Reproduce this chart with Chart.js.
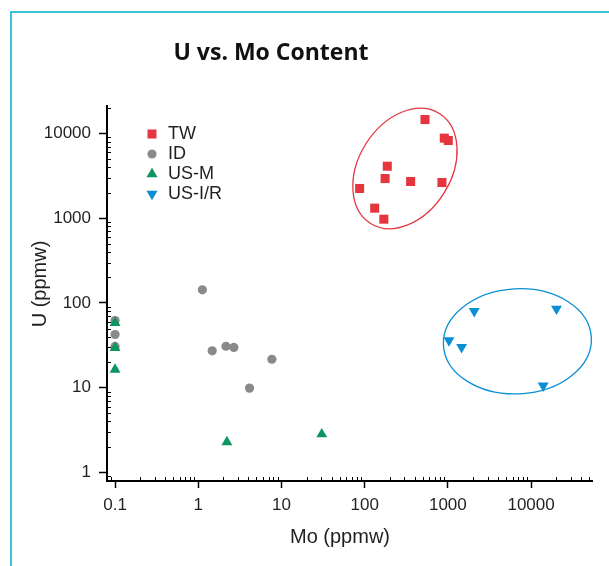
<!DOCTYPE html>
<html>
<head>
    <title>U vs. Mo Content</title>
    <style type="text/css">
        body {
            margin: 0;
            background: #ffffff;
        }

        #chart-container {
            width: 609px;
            height: 566px;
        }
    </style>
    <script src="https://cdn.jsdelivr.net/npm/chart.js@4.4.1/dist/chart.umd.min.js"></script>
</head>

<body>
    <div id="chart-container">
        <canvas id="graphCanvas" width="609" height="566"></canvas>
    </div>

    <script>
        // values (ppmw)
        const twMo = [531, 906, 1011, 187, 176, 357, 849, 87, 132, 170];
        const twU = [14600, 8810, 8270, 4110, 2940, 2715, 2640, 2245, 1315, 975];

        const idMo = [1.12, 0.1, 0.1, 0.1, 1.47, 2.15, 2.68, 7.67, 4.13];
        const idU = [143, 62, 42.5, 30.7, 27.3, 30.9, 29.9, 21.7, 9.9];

        const usmMo = [0.1, 0.1, 0.1, 2.21, 30.5];
        const usmU = [58.4, 29.6, 16.4, 2.28, 2.83];

        const usirMo = [2075, 20200, 1031, 1463, 13970];
        const usirU = [80, 85.4, 36.1, 30.1, 10.6];

        const xTicks = [0.1, 1, 10, 100, 1000, 10000];
        const xTickLabels = ['0.1', '1', '10', '100', '1000', '10000'];
        const yTicks = [1, 10, 100, 1000, 10000];
        const yTickLabels = ['1', '10', '100', '1000', '10000'];

        const seriesNames = ['TW', 'ID', 'US-M', 'US-I/R'];

        // group outlines: centre (Mo, U), half-axes in decades, tilt in degrees
        const groupRings = [
            { mo: 305, u: 3865, rx: 0.78, ry: 0.545, tilt: 58, color: '#e5353f' },
            { mo: 6850, u: 35.3, rx: 0.89, ry: 0.62, tilt: 3, color: '#0b8fd4' }
        ];

        const RED = '#e5353f', GREY = '#8a8a8a', GREEN = '#0b9561', BLUE = '#0b8fd4';
        const FONT = "'Liberation Sans', Arial, sans-serif";

        function toPoints(xs, ys) {
            return xs.map(function (x, i) { return { x: x, y: ys[i] }; });
        }

        // small dot for the legend (default legend dot would be too big)
        const legendDot = document.createElement('canvas');
        legendDot.width = 10;
        legendDot.height = 10;
        (function () {
            const c = legendDot.getContext('2d');
            c.fillStyle = GREY;
            c.beginPath();
            c.arc(5, 5, 4.6, 0, Math.PI * 2);
            c.fill();
        })();

        const decorPlugin = {
            id: 'decor',
            afterLayout(chart) {
                // put the legend in the upper left of the plot
                const lg = chart.legend;
                const w = lg.right - lg.left, h = lg.bottom - lg.top;
                lg.left = 143; lg.right = 143 + w;
                lg.top = 123; lg.bottom = 123 + h;
            },
            beforeDraw(chart) {
                const ctx = chart.ctx;
                ctx.save();
                ctx.strokeStyle = '#3dc2da';
                ctx.lineWidth = 2;
                ctx.beginPath();
                ctx.moveTo(11, 566);
                ctx.lineTo(11, 12);
                ctx.lineTo(609, 12);
                ctx.stroke();
                ctx.restore();
            },
            beforeDatasetsDraw(chart) {
                const ctx = chart.ctx;
                const xs = chart.scales.x, ys = chart.scales.y;
                ctx.save();
                groupRings.forEach(function (r) {
                    const cx = xs.getPixelForValue(r.mo);
                    const cy = ys.getPixelForValue(r.u);
                    const rx = xs.getPixelForValue(r.mo * Math.pow(10, r.rx)) - cx;
                    const ry = cy - ys.getPixelForValue(r.u * Math.pow(10, r.ry));
                    ctx.strokeStyle = r.color;
                    ctx.lineWidth = 1.3;
                    ctx.beginPath();
                    ctx.ellipse(cx, cy, rx, ry, -r.tilt * Math.PI / 180, 0, Math.PI * 2);
                    ctx.stroke();
                });
                ctx.restore();
            },
            afterDraw(chart) {
                const ctx = chart.ctx;
                const xs = chart.scales.x, ys = chart.scales.y;
                ctx.save();
                // minor ticks, pointing into the plot
                ctx.strokeStyle = '#000';
                ctx.lineWidth = 1;
                ctx.beginPath();
                [0.01].concat(xTicks).forEach(function (d) {
                    for (let k = 2; k <= 9; k++) {
                        const v = d * k;
                        if (v <= xs.min || v >= xs.max) continue;
                        const px = Math.round(xs.getPixelForValue(v)) + 0.5;
                        ctx.moveTo(px, xs.top);
                        ctx.lineTo(px, xs.top - 4);
                    }
                });
                [0.1].concat(yTicks).forEach(function (d) {
                    for (let k = 2; k <= 9; k++) {
                        const v = d * k;
                        if (v <= ys.min || v >= ys.max) continue;
                        const py = Math.round(ys.getPixelForValue(v)) + 0.5;
                        ctx.moveTo(ys.right, py);
                        ctx.lineTo(ys.right + 4, py);
                    }
                });
                ctx.stroke();

                // titles
                ctx.fillStyle = '#111';
                ctx.textAlign = 'center';
                ctx.textBaseline = 'middle';
                ctx.font = "bold 23px 'Open Sans', sans-serif";
                ctx.fillText('U vs. Mo Content', 271, 53);

                ctx.fillStyle = '#231f20';
                ctx.font = '20px ' + FONT;
                ctx.fillText('Mo (ppmw)', 340, 537);

                ctx.translate(40, 284);
                ctx.rotate(-Math.PI / 2);
                ctx.fillText('U (ppmw)', 0, 0);
                ctx.restore();
            }
        };

        const chartdata = {
            datasets: [
                {
                    label: seriesNames[0],
                    data: toPoints(twMo, twU),
                    order: 0,
                    backgroundColor: RED,
                    pointStyle: 'rect',
                    pointRadius: 6.4,
                    pointBorderWidth: 0
                },
                {
                    label: seriesNames[1],
                    data: toPoints(idMo, idU),
                    order: 3,
                    backgroundColor: GREY,
                    pointStyle: 'circle',
                    pointRadius: 4.6,
                    pointBorderWidth: 0
                },
                {
                    label: seriesNames[2],
                    data: toPoints(usmMo, usmU),
                    order: 1,
                    backgroundColor: GREEN,
                    pointStyle: 'triangle',
                    pointRadius: 6.3,
                    pointBorderWidth: 0
                },
                {
                    label: seriesNames[3],
                    data: toPoints(usirMo, usirU),
                    order: 2,
                    backgroundColor: BLUE,
                    pointStyle: 'triangle',
                    rotation: 180,
                    pointRotation: 180,
                    pointRadius: 6.3,
                    pointBorderWidth: 0
                }
            ]
        };

        const graphTarget = document.getElementById('graphCanvas');

        new Chart(graphTarget, {
            type: 'scatter',
            data: chartdata,
            plugins: [decorPlugin],
            options: {
                responsive: false,
                animation: false,
                layout: {
                    padding: { top: 106, right: 17, bottom: 0, left: 0 }
                },
                plugins: {
                    title: { display: false },
                    tooltip: { enabled: false },
                    legend: {
                        position: 'chartArea',
                        align: 'start',
                        labels: {
                            usePointStyle: true,
                            boxHeight: 9,
                            boxWidth: 14,
                            padding: 2,
                            color: '#231f20',
                            font: { family: FONT, size: 18 },
                            sort: function (a, b) { return a.datasetIndex - b.datasetIndex; },
                            generateLabels(chart) {
                                const items = Chart.defaults.plugins.legend.labels.generateLabels(chart);
                                items.forEach(function (it) {
                                    it.lineWidth = 0;
                                    if (it.text === seriesNames[1]) it.pointStyle = legendDot;
                                });
                                return items;
                            }
                        }
                    }
                },
                scales: {
                    x: {
                        type: 'logarithmic',
                        position: 'bottom',
                        min: 0.08,
                        max: 54000,
                        afterBuildTicks(scale) {
                            scale.ticks = xTicks.map(function (v) { return { value: v, major: true }; });
                        },
                        afterFit(scale) { scale.height = 85; },
                        ticks: {
                            autoSkip: false,
                            maxRotation: 0,
                            padding: 7,
                            color: '#231f20',
                            font: { family: FONT, size: 17 },
                            callback: function (value, index) { return xTickLabels[index]; }
                        },
                        grid: {
                            drawOnChartArea: false,
                            drawTicks: true,
                            tickLength: 7,
                            tickColor: '#000',
                            tickWidth: 1.5
                        },
                        border: { display: true, color: '#000', width: 2 }
                    },
                    y: {
                        type: 'logarithmic',
                        position: 'left',
                        min: 0.794,
                        max: 21100,
                        afterBuildTicks(scale) {
                            scale.ticks = yTicks.map(function (v) { return { value: v, major: true }; });
                        },
                        afterFit(scale) { scale.width = 107; },
                        ticks: {
                            autoSkip: false,
                            padding: 8,
                            color: '#231f20',
                            font: { family: FONT, size: 17 },
                            callback: function (value, index) { return yTickLabels[index]; }
                        },
                        grid: {
                            drawOnChartArea: false,
                            drawTicks: true,
                            tickLength: 8,
                            tickColor: '#000',
                            tickWidth: 1.5
                        },
                        border: { display: true, color: '#000', width: 2 }
                    }
                }
            }
        });
    </script>
</body>
</html>
